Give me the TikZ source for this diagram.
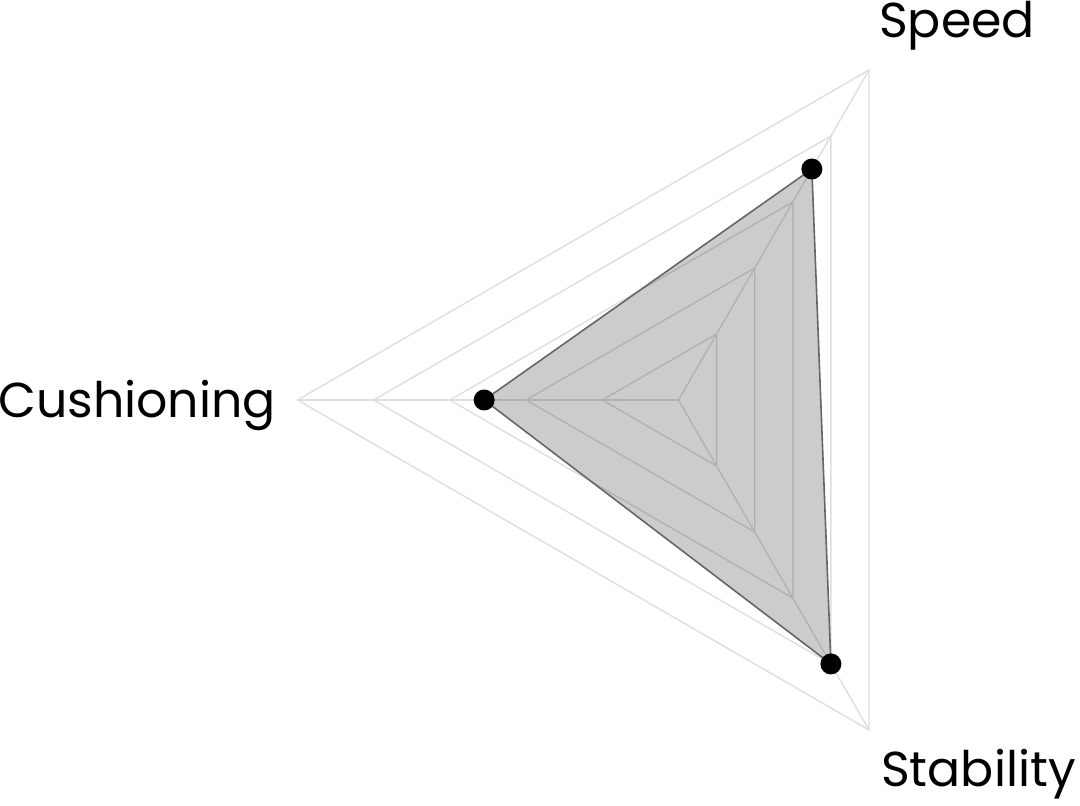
\documentclass[tikz,border=0pt]{standalone}
\usepackage{fontspec}
\setmainfont{Poppins}
\begin{document}
\begin{tikzpicture}[x=1pt,y=1pt,
  gridline/.style={draw=black!13,line width=1.4pt,line join=round},
  datafill/.style={fill=black,fill opacity=0.2,draw=black!60,draw opacity=1,line width=1.6pt,line join=round},
  datadot/.style={circle,fill=black,inner sep=0pt,minimum size=21pt},
  axislabel/.style={font=\fontsize{49}{51}\selectfont,text=black,inner sep=0pt}]
\useasboundingbox (0,0) rectangle (1080,806);
\begin{scope}[shift={(678.5,406)}]
  \coordinate (C) at (0,0);
  % grid rings
  \foreach \r in {1,2,3,4,5} {
    \draw[gridline] (60:{76.2*\r pt}) -- (180:{76.2*\r pt}) -- (300:{76.2*\r pt}) -- cycle;
  }
  \coordinate (vS) at (60:381pt);
  \coordinate (vC) at (180:381pt);
  \coordinate (vT) at (300:381pt);
  \draw[gridline] (C) -- (vS);
  \draw[gridline] (C) -- (vC);
  \draw[gridline] (C) -- (vT);
  % data
  \coordinate (dS) at (60:{0.70*381pt});
  \coordinate (dC) at (180:{0.51*381pt});
  \coordinate (dT) at (300:{0.80*381pt});
  \draw[datafill] (dS) -- (dC) -- (dT) -- cycle;
  \node[datadot] (pS) at (dS) {};
  \node[datadot] (pC) at (dC) {};
  \node[datadot] (pT) at (dT) {};
\end{scope}
\node[axislabel,anchor=base west] (lS) at (879,768) {Speed};
\node[axislabel,anchor=base east] (lC) at (276,388) {Cushioning};
\node[axislabel,anchor=base west] (lT) at (881,19) {Stability};
\end{tikzpicture}
\end{document}
